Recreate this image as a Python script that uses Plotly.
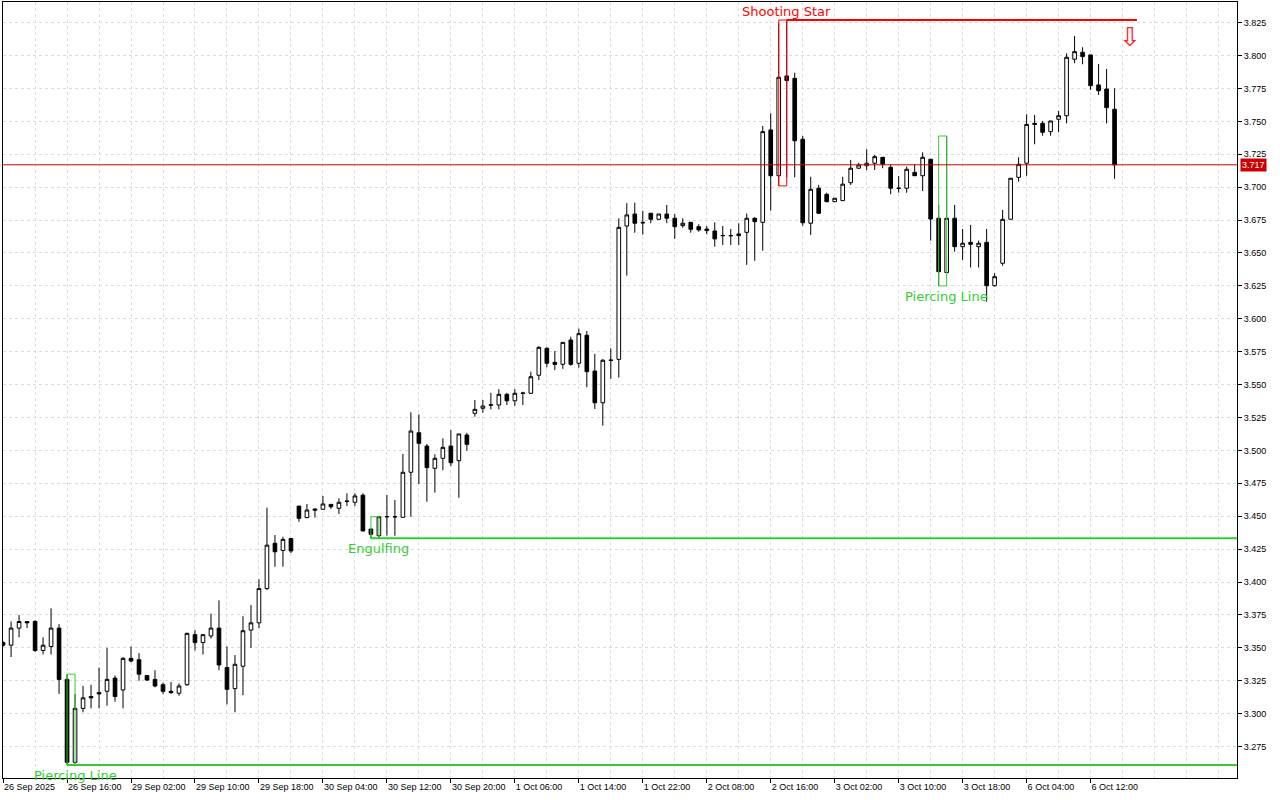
import plotly.graph_objects as go

# ---------------- data (hourly candles) ----------------
opens = [3.354, 3.352, 3.365, 3.370, 3.370, 3.348, 3.351, 3.365, 3.326, 3.263,
         3.304, 3.313, 3.316, 3.317, 3.327, 3.318, 3.342, 3.341, 3.329, 3.326,
         3.322, 3.317, 3.3155, 3.322, 3.360, 3.354, 3.359, 3.365, 3.335, 3.319,
         3.336, 3.3635, 3.369, 3.395, 3.4294, 3.424, 3.433, 3.4577, 3.449, 3.4545,
         3.4553, 3.459, 3.456, 3.4616, 3.4606, 3.466, 3.4403, 3.4352, 3.4495, 3.4497,
         3.4492, 3.4834, 3.5134, 3.5033, 3.4864, 3.494, 3.5033, 3.4922, 3.5117, 3.5282,
         3.532, 3.5343, 3.5345, 3.5426, 3.5377, 3.5432, 3.5434, 3.5571, 3.5776, 3.5669,
         3.5654, 3.5839, 3.5662, 3.5875, 3.5603, 3.5362, 3.5684, 3.5692, 3.6705, 3.6796,
         3.6733, 3.6802, 3.6756, 3.6796, 3.6764, 3.6708, 3.6733, 3.670, 3.6682, 3.6667,
         3.6631, 3.6633, 3.6645, 3.6657, 3.6764, 3.6733, 3.7435, 3.7087, 3.7845, 3.7827,
         3.7364, 3.6726, 3.6992, 3.6946, 3.689, 3.6898, 3.7034, 3.7144, 3.7163, 3.7182,
         3.7227, 3.7151, 3.6993, 3.6992, 3.7113, 3.7087, 3.7212, 3.6764, 3.6351, 3.6764,
         3.6548, 3.6581, 3.6548, 3.6581, 3.6251, 3.6422, 3.6756, 3.7075, 3.7182, 3.7485,
         3.7485, 3.7422, 3.7516, 3.7543, 3.7972, 3.8025, 3.8005, 3.7777, 3.7746, 3.7592]
highs = [3.355, 3.370, 3.375, 3.370, 3.371, 3.358, 3.380, 3.368, 3.330, 3.315,
         3.321, 3.322, 3.335, 3.350, 3.329, 3.343, 3.351, 3.346, 3.329, 3.333,
         3.3235, 3.324, 3.323, 3.3615, 3.3635, 3.360, 3.376, 3.386, 3.351, 3.3445,
         3.374, 3.3825, 3.402, 3.4565, 3.4357, 3.4344, 3.4335, 3.4577, 3.4593, 3.4555,
         3.4654, 3.459, 3.4636, 3.4674, 3.4674, 3.4674, 3.4403, 3.4496, 3.4661, 3.4623,
         3.4973, 3.529, 3.5274, 3.5049, 3.4971, 3.5092, 3.5155, 3.5125, 3.5134, 3.5383,
         3.5383, 3.5438, 3.5466, 3.5438, 3.5466, 3.5446, 3.5598, 3.5793, 3.5783, 3.5755,
         3.5821, 3.5864, 3.5925, 3.5907, 3.5733, 3.5694, 3.5776, 3.6764, 3.6878, 3.6882,
         3.682, 3.6802, 3.6798, 3.6865, 3.6796, 3.6764, 3.6735, 3.6718, 3.6705, 3.6733,
         3.6705, 3.6682, 3.6726, 3.680, 3.6771, 3.7465, 3.7561, 3.8245, 3.827, 3.787,
         3.7389, 3.7079, 3.7017, 3.6958, 3.6918, 3.7079, 3.7207, 3.7185, 3.7288, 3.7245,
         3.7228, 3.7174, 3.7085, 3.7156, 3.7174, 3.7265, 3.7215, 3.6865, 3.7389, 3.6865,
         3.6682, 3.6713, 3.6594, 3.6682, 3.6346, 3.6827, 3.707, 3.7227, 3.7554, 3.7549,
         3.7503, 3.7505, 3.7579, 3.8017, 3.8149, 3.8063, 3.8005, 3.7936, 3.7898, 3.7751]
lows = [3.351, 3.343, 3.358, 3.365, 3.347, 3.345, 3.345, 3.315, 3.261, 3.262,
        3.301, 3.304, 3.304, 3.306, 3.309, 3.304, 3.339, 3.325, 3.325, 3.320,
        3.315, 3.315, 3.3136, 3.321, 3.348, 3.345, 3.357, 3.333, 3.307, 3.301,
        3.314, 3.350, 3.365, 3.394, 3.4116, 3.4116, 3.422, 3.4458, 3.4484, 3.449,
        3.4547, 3.4555, 3.4517, 3.4577, 3.4577, 3.4385, 3.4332, 3.4332, 3.4352, 3.4352,
        3.449, 3.4496, 3.4745, 3.461, 3.468, 3.485, 3.488, 3.464, 3.4998, 3.5256,
        3.5286, 3.5312, 3.5312, 3.5345, 3.5338, 3.5345, 3.543, 3.5535, 3.5631, 3.561,
        3.562, 3.5644, 3.5628, 3.548, 3.5315, 3.5188, 3.5543, 3.5553, 3.6328, 3.6654,
        3.664, 3.6726, 3.6754, 3.6726, 3.6607, 3.6692, 3.6654, 3.6662, 3.6642, 3.6548,
        3.6561, 3.6561, 3.6561, 3.641, 3.6441, 3.6517, 3.6821, 3.701, 3.7075, 3.7075,
        3.6707, 3.6637, 3.6796, 3.6885, 3.6888, 3.6895, 3.7017, 3.714, 3.713, 3.713,
        3.7144, 3.6946, 3.6958, 3.6958, 3.7085, 3.6971, 3.6594, 3.625, 3.635, 3.651,
        3.6447, 3.639, 3.639, 3.613, 3.6245, 3.6403, 3.6754, 3.7042, 3.7087, 3.7326,
        3.7391, 3.7391, 3.7417, 3.7485, 3.7942, 3.7934, 3.7739, 3.7701, 3.7485, 3.7063]
closes = [3.352, 3.365, 3.370, 3.369, 3.348, 3.352, 3.365, 3.326, 3.263, 3.304,
          3.312, 3.312, 3.315, 3.326, 3.313, 3.342, 3.340, 3.330, 3.3255, 3.321,
          3.317, 3.316, 3.321, 3.361, 3.354, 3.360, 3.365, 3.337, 3.3185, 3.3375,
          3.363, 3.369, 3.395, 3.428, 3.423, 3.4324, 3.4236, 3.4484, 3.4547, 3.4555,
          3.4593, 3.4572, 3.4606, 3.4612, 3.4654, 3.4388, 3.4363, 3.4496, 3.4497, 3.4495,
          3.4834, 3.5147, 3.5054, 3.4869, 3.494, 3.5023, 3.4906, 3.5125, 3.5046, 3.5312,
          3.5337, 3.5347, 3.5426, 3.5377, 3.5434, 3.5436, 3.556, 3.5783, 3.5662, 3.5654,
          3.5821, 3.5654, 3.5887, 3.5598, 3.5362, 3.5685, 3.5686, 3.6695, 3.6789, 3.6726,
          3.6729, 3.6756, 3.6796, 3.6764, 3.670, 3.6726, 3.668, 3.6675, 3.667, 3.6607,
          3.6633, 3.6631, 3.6632, 3.6764, 3.6738, 3.7422, 3.7087, 3.7835, 3.781, 3.7353,
          3.673, 3.6984, 3.6802, 3.689, 3.6916, 3.7023, 3.7144, 3.7169, 3.7182, 3.7232,
          3.7174, 3.6992, 3.6991, 3.7136, 3.7087, 3.7227, 3.6758, 3.6358, 3.6764, 3.6548,
          3.6574, 3.6566, 3.6574, 3.6251, 3.632, 3.6756, 3.7068, 3.7174, 3.7477, 3.7478,
          3.7417, 3.7503, 3.7543, 3.7987, 3.803, 3.7992, 3.7771, 3.7733, 3.7604, 3.717]

bar_index = list(range(len(opens)))

time_tick_index = [0, 8, 16, 24, 32, 40, 48, 56, 64, 72, 80, 88, 96, 104, 112, 120, 128, 136]
time_tick_labels = ["26 Sep 2025", "26 Sep 16:00", "29 Sep 02:00", "29 Sep 10:00",
                    "29 Sep 18:00", "30 Sep 04:00", "30 Sep 12:00", "30 Sep 20:00",
                    "1 Oct 06:00", "1 Oct 14:00", "1 Oct 22:00", "2 Oct 08:00",
                    "2 Oct 16:00", "3 Oct 02:00", "3 Oct 10:00", "3 Oct 18:00",
                    "6 Oct 04:00", "6 Oct 12:00"]
grid_index = list(range(0, 156, 4))

price_ticks = [3.275, 3.300, 3.325, 3.350, 3.375, 3.400, 3.425, 3.450, 3.475, 3.500,
               3.525, 3.550, 3.575, 3.600, 3.625, 3.650, 3.675, 3.700, 3.725, 3.750,
               3.775, 3.800, 3.825]
price_labels = ["%.3f" % v for v in price_ticks]

current_price = 3.717

# candle patterns: (label, first bar, second bar, kind)
patterns = [
    ("Piercing Line", 8, 9, "bull_line"),
    ("Engulfing", 46, 47, "bull_line"),
    ("Shooting Star", 97, 98, "bear_line"),
    ("Piercing Line", 117, 118, "bull"),
]
signal_end_index = 141.8

# ---------------- styling ----------------
X_RANGE = [-0.01, 154.31]
Y_RANGE = [3.2511, 3.8407]
GREEN = "#32CD32"
RED = "#FF0000"
GRID = "#dcdcdc"

fig = go.Figure()
fig.add_trace(go.Candlestick(
    x=bar_index, open=opens, high=highs, low=lows, close=closes,
    increasing=dict(line=dict(color="black", width=1), fillcolor="white"),
    decreasing=dict(line=dict(color="black", width=1), fillcolor="black"),
    whiskerwidth=0, hoverinfo="skip", showlegend=False,
))

shapes = []
annotations = []
for label, a, b, kind in patterns:
    lo = min(lows[a], lows[b])
    hi = max(highs[a], highs[b])
    color = RED if kind.startswith("bear") else GREEN
    shapes.append(dict(type="rect", xref="x", yref="y", x0=a, x1=b, y0=lo, y1=hi,
                       line=dict(color=color, width=1), fillcolor="rgba(0,0,0,0)",
                       layer="above"))
    if kind == "bull_line":
        shapes.append(dict(type="line", xref="x", yref="y", x0=a, x1=X_RANGE[1],
                           y0=lo, y1=lo, line=dict(color=GREEN, width=2), layer="above"))
    if kind == "bear_line":
        shapes.append(dict(type="line", xref="x", yref="y", x0=b, x1=signal_end_index,
                           y0=hi, y1=hi, line=dict(color=RED, width=2), layer="above"))
    if kind.startswith("bear"):
        annotations.append(dict(x=b, y=hi, xref="x", yref="y", text=label,
                                showarrow=False, xanchor="center", yanchor="bottom",
                                yshift=-1,
                                font=dict(family="DejaVu Sans", size=13, color=RED)))
    else:
        annotations.append(dict(x=b, y=lo, xref="x", yref="y", text=label,
                                showarrow=False, xanchor="center", yanchor="top",
                                yshift=-1,
                                font=dict(family="DejaVu Sans", size=13, color=GREEN)))

# sell arrow at end of the shooting-star line
annotations.append(dict(x=signal_end_index - 0.9, y=highs[98], xref="x", yref="y",
                        text="⇩", showarrow=False, xanchor="center", yanchor="top",
                        yshift=0,
                        font=dict(family="DejaVu Sans", size=26, color="#ff2020")))

# current price line and label
shapes.append(dict(type="line", xref="paper", yref="y", x0=0, x1=1,
                   y0=current_price, y1=current_price,
                   line=dict(color="#cc0000", width=1), layer="above"))
annotations.append(dict(x=1, y=current_price, xref="paper", yref="y",
                        text="%.3f" % current_price, showarrow=False,
                        xanchor="left", yanchor="middle", xshift=3,
                        bgcolor="#cc0000", borderpad=1,
                        font=dict(family="Liberation Sans", size=9, color="white")))

fig.update_layout(
    width=1280, height=800,
    margin=dict(l=3, r=43, t=2, b=22),
    paper_bgcolor="white", plot_bgcolor="white",
    shapes=shapes, annotations=annotations,
    showlegend=False, hovermode=False,
    boxgap=0.35,
    font=dict(family="Liberation Sans", size=9, color="black"),
    xaxis=dict(
        range=X_RANGE, rangeslider=dict(visible=False),
        tickmode="array", tickvals=time_tick_index, ticktext=time_tick_labels,
        ticklabelposition="outside right",
        ticks="outside", ticklen=4, tickcolor="black",
        tickfont=dict(family="Liberation Sans", size=9, color="black"),
        showgrid=False, zeroline=False,
        showline=True, mirror=True, linecolor="black", linewidth=1,
        minor=dict(tickmode="array", tickvals=grid_index, showgrid=True,
                   gridcolor=GRID, griddash="3px,3px", gridwidth=1, ticks=""),
    ),
    yaxis=dict(
        range=Y_RANGE, side="right",
        tickmode="array", tickvals=price_ticks, ticktext=price_labels,
        ticks="outside", ticklen=4, tickcolor="black",
        tickfont=dict(family="Liberation Sans", size=9, color="black"),
        showgrid=True, gridcolor=GRID, griddash="3px,3px", gridwidth=1,
        zeroline=False,
        showline=True, mirror=True, linecolor="black", linewidth=1,
    ),
)

fig.write_html("out.html", config={"displayModeBar": False},
               post_script="document.body.style.margin='0';")
